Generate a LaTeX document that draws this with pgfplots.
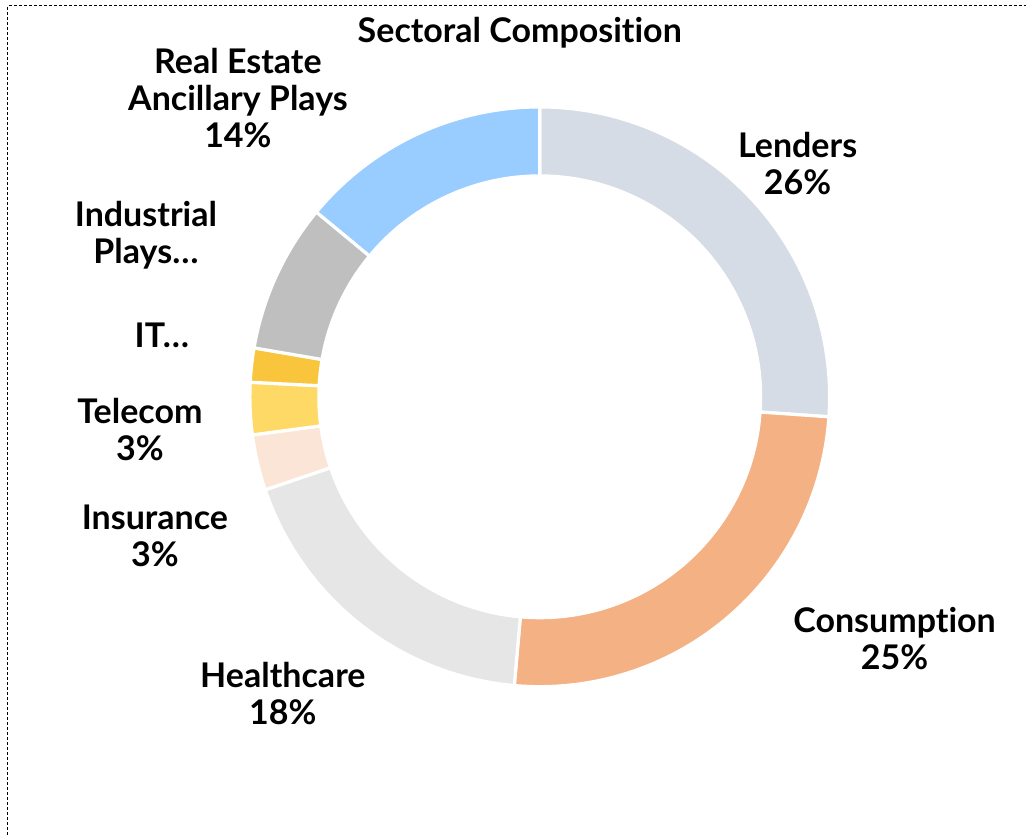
\documentclass[border=0pt]{standalone}
\usepackage{fontspec}
\setmainfont{Lato}[Ligatures=NoCommon]
\usepackage{pgfplots}
\usepackage{pgfplotstable}
\pgfplotsset{compat=1.18}
\definecolor{cLend}{HTML}{D6DCE5}
\definecolor{cCons}{HTML}{F4B183}
\definecolor{cHealth}{HTML}{E7E6E6}
\definecolor{cIns}{HTML}{FBE5D6}
\definecolor{cTel}{HTML}{FFD966}
\definecolor{cIT}{HTML}{F9C53C}
\definecolor{cInd}{HTML}{BFBFBF}
\definecolor{cRE}{HTML}{99CCFF}
\pgfdeclareplotmark{nomark}{}

% one row per sector: centre, start (cumulative %), share (%), colour index
\pgfplotstableread{
x y from pct idx
540 438 0 26.1 0
540 438 26.1 25.3 1
540 438 51.4 18.4 2
540 438 69.8 3.1 3
540 438 72.9 2.9 4
540 438 75.8 1.9 5
540 438 77.7 8.3 6
540 438 86.0 14.0 7
}\sectors

\begin{document}
\begin{tikzpicture}[lbl/.style={font=\fontsize{17}{18.5}\selectfont\bfseries,align=center}]
\begin{axis}[x=0.5pt,y=0.5pt,xmin=0,xmax=1026,ymin=0,ymax=835,hide axis,clip=false]
\addplot[scatter,only marks,mark=nomark,
  visualization depends on={\thisrow{from}\as\segfrom},
  visualization depends on={\thisrow{pct}\as\segpct},
  visualization depends on={\thisrow{idx}\as\segidx},
  scatter/@pre marker code/.code={%
    \pgfkeys{/pgf/fpu=true,/pgf/fpu/output format=fixed}%
    \pgfmathsetmacro\angA{90-3.6*\segfrom}%
    \pgfmathsetmacro\angB{90-3.6*(\segfrom+\segpct)}%
    \pgfmathsetmacro\k{round(\segidx)}%
    \pgfkeys{/pgf/fpu=false}%
    \pgfmathtruncatemacro\k{\k}%
    \edef\segcol{\ifcase\k cLend\or cCons\or cHealth\or cIns\or cTel\or cIT\or cInd\else cRE\fi}%
    \fill[fill=\segcol,draw=white,line width=1.6pt]
      (\angA:145pt) arc[start angle=\angA,end angle=\angB,radius=145pt]
      -- (\angB:110.5pt) arc[start angle=\angB,end angle=\angA,radius=110.5pt] -- cycle;
  },
  scatter/@post marker code/.code={}]
  table[x=x,y=y]{\sectors};
\draw[dash pattern=on 1.5pt off 1pt,line width=0.5pt] (axis cs:8,0) -- (axis cs:8,829) -- (axis cs:1026,829);
\node[lbl] at (axis cs:520,802) {Sectoral Composition};
\node[lbl] at (axis cs:238,737) {Real Estate\\Ancillary Plays\\14\%};
\node[lbl] at (axis cs:798,671.5) {Lenders\\26\%};
\node[lbl] at (axis cs:146,600) {Industrial\\Plays…};
\node[lbl] at (axis cs:162,499) {IT…};
\node[lbl] at (axis cs:140,405) {Telecom\\3\%};
\node[lbl] at (axis cs:155,298.5) {Insurance\\3\%};
\node[lbl] at (axis cs:283,141) {Healthcare\\18\%};
\node[lbl] at (axis cs:895,196) {Consumption\\25\%};
\path (axis cs:0,0) rectangle (axis cs:1026,835);
\end{axis}
\end{tikzpicture}
\end{document}
